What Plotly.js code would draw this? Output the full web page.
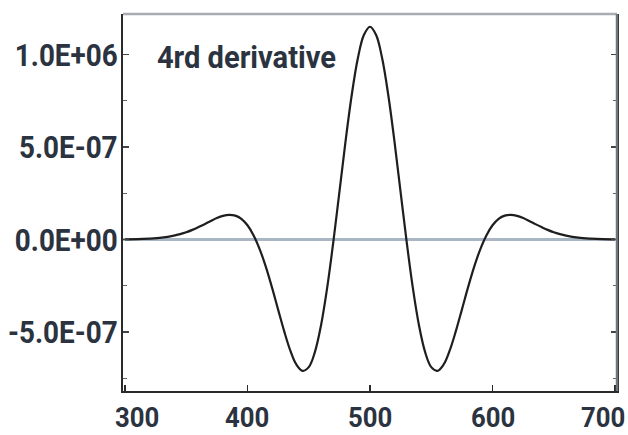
<!DOCTYPE html>
<html>
<head>
<meta charset="utf-8">
<script src="https://cdn.plot.ly/plotly-3.0.1.min.js"></script>
<style>html,body{margin:0;padding:0;background:#fff;}#chart{width:628px;height:435px;}</style>
</head>
<body>
<div id="chart"></div>
<script>
// wavelength (x) and 4th-derivative signal (y)
var wavelength = [300, 310, 320, 330, 340, 345, 350, 355, 360, 365, 370, 375, 380, 385, 390, 395,
  400, 405, 410, 415, 420, 425, 430, 435, 440, 445, 450, 455, 460, 465, 470, 475, 480, 485, 490, 495,
  500, 505, 510, 515, 520, 525, 530, 535, 540, 545, 550, 555, 560, 565, 570, 575, 580, 585, 590, 595,
  600, 605, 610, 615, 620, 625, 630, 635, 640, 645, 650, 655, 660, 670, 680, 690, 700];
var signal = [0.007e-7, 0.015e-7, 0.045e-7, 0.10e-7, 0.21e-7, 0.29e-7, 0.39e-7, 0.52e-7, 0.67e-7, 0.83e-7,
  1.00e-7, 1.16e-7, 1.28e-7, 1.33e-7, 1.29e-7, 1.12e-7,
  0.77e-7, 0.22e-7, -0.53e-7, -1.48e-7, -2.59e-7, -3.79e-7, -4.97e-7, -6.01e-7, -6.77e-7, -7.10e-7,
  -6.90e-7, -6.09e-7, -4.65e-7, -2.63e-7, -0.17e-7, 2.55e-7, 5.29e-7, 7.77e-7, 9.77e-7, 11.05e-7,
  11.50e-7, 11.05e-7, 9.77e-7, 7.77e-7, 5.29e-7, 2.55e-7, -0.17e-7, -2.63e-7, -4.65e-7, -6.09e-7,
  -6.90e-7, -7.10e-7, -6.77e-7, -6.01e-7, -4.97e-7, -3.79e-7, -2.59e-7, -1.48e-7, -0.53e-7, 0.22e-7,
  0.77e-7, 1.12e-7, 1.29e-7, 1.33e-7, 1.28e-7, 1.16e-7, 1.00e-7, 0.83e-7, 0.67e-7, 0.52e-7,
  0.39e-7, 0.29e-7, 0.21e-7, 0.10e-7, 0.045e-7, 0.015e-7, 0.007e-7];
var xTicks = [300, 400, 500, 600, 700];
var yTickVals = [-5e-7, 0, 5e-7, 1e-6];
var yTickText = ['-5.0E-07', '0.0E+00', '5.0E-07', '1.0E+06'];
var labelText = '4rd derivative';

var FONT = 'Roboto, Liberation Sans, sans-serif';
var TXT = '#2b3340';
var FS = 32;
var XFS = 28;

var trace = {
  x: wavelength, y: signal, type: 'scatter', mode: 'lines',
  line: {color: '#1e1e1e', width: 2.2, shape: 'spline', smoothing: 1},
  hoverinfo: 'none'
};

// x tick labels (end labels sit slightly inward, as in the reference)
var xLabelShift = {300: 12, 700: -12};
var xLabels = xTicks.map(function (v) {
  return {text: String(v), xref: 'x', yref: 'paper', x: v, y: 0,
    xshift: xLabelShift[v] || 0, yanchor: 'top', yshift: -9, xanchor: 'center',
    borderpad: 0, showarrow: false, font: {family: FONT, size: XFS, color: TXT, weight: 'bold'}};
});

var layout = {
  width: 628, height: 435,
  margin: {l: 123, r: 11, t: 14, b: 44},
  paper_bgcolor: '#ffffff', plot_bgcolor: '#ffffff',
  showlegend: false,
  font: {family: FONT, color: TXT, size: FS, weight: 'bold'},
  xaxis: {
    range: [298.4, 701.6], tickvals: xTicks, showticklabels: false,
    showgrid: false, zeroline: false,
    showline: true, linecolor: '#2a2a2a', linewidth: 2, mirror: false,
    ticks: 'inside', ticklen: 6, tickwidth: 1.5, tickcolor: '#2a2a2a'
  },
  yaxis: {
    range: [-0.819e-6, 1.219e-6], tickvals: yTickVals, ticktext: yTickText,
    showgrid: false,
    zeroline: true, zerolinecolor: '#a9b6c4', zerolinewidth: 3,
    showline: true, linecolor: '#2a2a2a', linewidth: 2, mirror: 'ticks',
    ticks: 'inside', ticklen: 6, tickwidth: 1.5, tickcolor: '#444',
    ticklabelstandoff: -3,
    minor: {dtick: 2.5e-7, tick0: 0, ticks: 'inside', ticklen: 4, tickcolor: '#666', tickwidth: 1},
    tickfont: {family: FONT, size: FS, color: TXT, weight: 'bold'}
  },
  shapes: [
    {type: 'line', xref: 'paper', yref: 'paper', x0: 0, x1: 1, y0: 1, y1: 1,
     line: {color: '#a8adb3', width: 2.5}},
    {type: 'line', xref: 'paper', yref: 'paper', x0: 1, x1: 1, y0: 0, y1: 1,
     line: {color: '#6f757d', width: 2.5}}
  ],
  annotations: [
    {text: labelText, xref: 'paper', yref: 'paper', x: 0.046, y: 0.885,
     xanchor: 'left', yanchor: 'middle', showarrow: false,
     font: {family: FONT, size: FS, color: TXT, weight: 'bold'}}
  ].concat(xLabels)
};

// condense text horizontally around its anchor (the reference uses a narrow typeface)
function condense(el, sx) {
  var bb = el.getBBox();
  var anchor = el.getAttribute('text-anchor') || 'start';
  var ax = anchor === 'end' ? bb.x + bb.width : (anchor === 'middle' ? bb.x + bb.width / 2 : bb.x);
  var t = el.getAttribute('transform') || '';
  el.setAttribute('transform', t + ' translate(' + ax + ',0) scale(' + sx + ',1) translate(' + (-ax) + ',0)');
}

Plotly.newPlot('chart', [trace], layout, {staticPlot: true, displayModeBar: false}).then(function (gd) {
  gd.querySelectorAll('.ytick text').forEach(function (el) { condense(el, 0.87); });
  gd.querySelectorAll('.annotation-text').forEach(function (el) {
    var isTick = /^\d+$/.test(el.textContent);
    condense(el, isTick ? 0.92 : 0.91);
  });
});
</script>
</body>
</html>
